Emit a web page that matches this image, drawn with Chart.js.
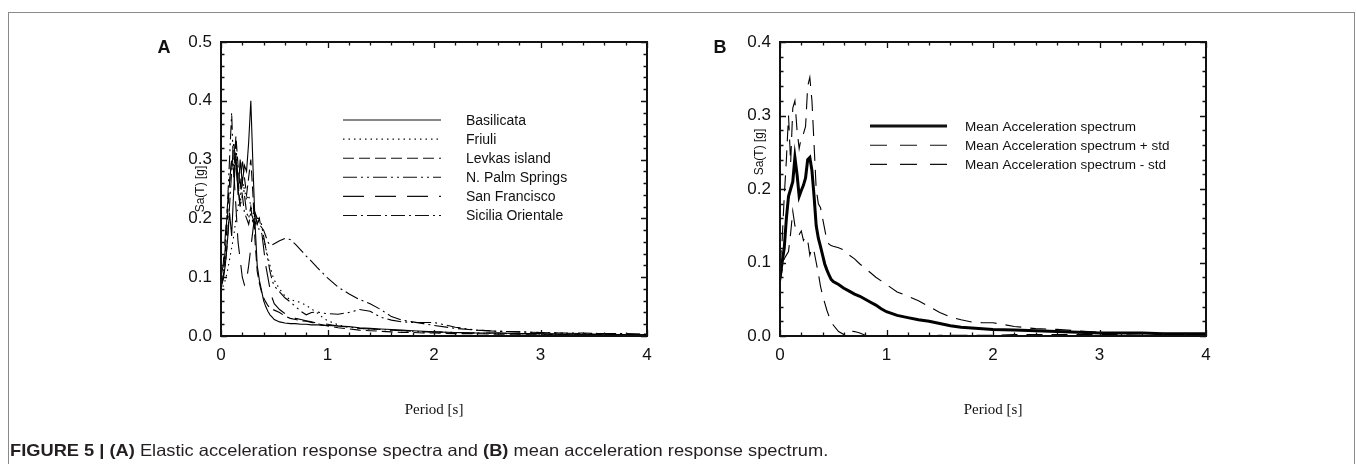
<!DOCTYPE html>
<html><head><meta charset="utf-8">
<script src="https://cdn.jsdelivr.net/npm/chart.js@4.4.1/dist/chart.umd.min.js"></script>
<style>
html,body{margin:0;padding:0;background:#fff;width:1356px;height:464px;overflow:hidden;}
#frame{position:absolute;left:8px;top:12px;width:1347px;height:480px;border:1px solid #8a8a8a;box-sizing:border-box;}
canvas{position:absolute;top:0;}
#cA{left:0;} #cB{left:680px;}
#caption{position:absolute;left:10px;top:441px;font-family:'Liberation Sans',Arial,sans-serif;font-size:16.5px;white-space:nowrap;transform-origin:0 0;color:#231f20;}
</style></head>
<body>
<div id="frame"></div>
<canvas id="cA" width="678" height="464"></canvas>
<canvas id="cB" width="676" height="464"></canvas>
<div id="caption"><b>FIGURE 5 | (A)</b> Elastic acceleration response spectra and <b>(B)</b> mean acceleration response spectrum.</div>
<script>
// ---------------- data ----------------
const periods = [0,0.02,0.04,0.06,0.08,0.10,0.12,0.14,0.16,0.18,0.20,0.22,0.24,0.26,0.28,0.30,0.32,0.34,0.36,0.38,0.40,0.42,0.44,0.46,0.48,0.50,
  0.55,0.60,0.65,0.70,0.75,0.80,0.85,0.90,0.95,1.0,
  1.1,1.2,1.3,1.4,1.5,1.6,1.7,1.8,1.9,2.0,
  2.2,2.4,2.6,2.8,3.0,3.2,3.4,3.6,3.8,4.0];

const basilicata = [0.085,0.095,0.12,0.16,0.21,0.17,0.25,0.31,0.24,0.30,0.26,0.29,0.28,0.33,0.40,0.29,0.19,0.12,0.095,0.078,0.06,0.05,0.042,0.036,0.032,0.028,
  0.024,0.022,0.021,0.021,0.020,0.020,0.019,0.019,0.018,0.018,
  0.017,0.016,0.014,0.013,0.012,0.011,0.010,0.009,0.008,0.007,
  0.006,0.005,0.005,0.004,0.004,0.003,0.003,0.003,0.002,0.002];
const friuli = [0.075,0.085,0.095,0.11,0.13,0.15,0.17,0.20,0.22,0.24,0.26,0.25,0.23,0.24,0.22,0.21,0.20,0.19,0.18,0.175,0.165,0.15,0.135,0.12,0.105,0.095,
  0.08,0.068,0.062,0.059,0.057,0.052,0.046,0.040,0.032,0.026,
  0.019,0.015,0.013,0.012,0.011,0.010,0.009,0.008,0.007,0.007,
  0.006,0.005,0.004,0.004,0.003,0.003,0.003,0.002,0.002,0.002];
const levkas = [0.09,0.10,0.14,0.20,0.26,0.30,0.28,0.34,0.29,0.25,0.30,0.27,0.24,0.27,0.30,0.24,0.16,0.11,0.09,0.075,0.065,0.058,0.052,0.047,0.045,0.044,
  0.040,0.034,0.030,0.028,0.026,0.025,0.023,0.021,0.019,0.017,
  0.014,0.012,0.010,0.009,0.008,0.007,0.006,0.006,0.005,0.005,
  0.004,0.004,0.003,0.003,0.003,0.002,0.002,0.002,0.002,0.002];
const palmSprings = [0.08,0.10,0.15,0.22,0.30,0.38,0.27,0.33,0.26,0.22,0.27,0.24,0.21,0.20,0.22,0.19,0.21,0.20,0.20,0.19,0.17,0.15,0.13,0.11,0.095,0.085,
  0.075,0.065,0.058,0.050,0.042,0.036,0.040,0.041,0.039,0.038,
  0.037,0.040,0.045,0.042,0.032,0.027,0.024,0.023,0.023,0.023,
  0.015,0.010,0.008,0.007,0.006,0.005,0.004,0.004,0.003,0.003];
const sanFrancisco = [0.10,0.12,0.17,0.22,0.26,0.30,0.28,0.22,0.16,0.13,0.10,0.087,0.095,0.12,0.15,0.18,0.21,0.19,0.20,0.18,0.15,0.12,0.10,0.08,0.065,0.055,
  0.045,0.038,0.033,0.030,0.028,0.026,0.024,0.022,0.021,0.020,
  0.017,0.015,0.013,0.012,0.011,0.010,0.009,0.008,0.007,0.007,
  0.006,0.005,0.005,0.004,0.004,0.003,0.003,0.003,0.002,0.002];
const siciliaOrientale = [0.09,0.10,0.12,0.16,0.22,0.28,0.33,0.29,0.25,0.22,0.24,0.21,0.20,0.19,0.21,0.20,0.19,0.20,0.19,0.185,0.18,0.17,0.16,0.155,0.155,0.157,
  0.162,0.166,0.164,0.156,0.146,0.136,0.127,0.117,0.108,0.099,
  0.083,0.072,0.062,0.055,0.045,0.033,0.027,0.024,0.021,0.018,
  0.013,0.010,0.008,0.007,0.006,0.005,0.005,0.004,0.004,0.003];

const meanSpectrum = [0.08,0.10,0.12,0.16,0.19,0.20,0.21,0.243,0.22,0.19,0.198,0.205,0.215,0.24,0.243,0.225,0.19,0.15,0.133,0.122,0.11,0.098,0.09,0.083,0.077,0.074,
  0.070,0.065,0.061,0.057,0.054,0.050,0.046,0.042,0.037,0.033,
  0.028,0.025,0.022,0.020,0.017,0.014,0.012,0.011,0.010,0.009,
  0.008,0.007,0.006,0.005,0.004,0.004,0.004,0.003,0.003,0.003];
const meanPlusStd = [0.095,0.13,0.19,0.24,0.30,0.235,0.31,0.32,0.28,0.255,0.27,0.275,0.285,0.34,0.352,0.32,0.26,0.20,0.18,0.175,0.16,0.145,0.13,0.125,0.123,0.122,
  0.120,0.117,0.110,0.105,0.098,0.092,0.086,0.080,0.075,0.070,
  0.060,0.054,0.048,0.040,0.032,0.026,0.022,0.019,0.018,0.018,
  0.013,0.010,0.009,0.007,0.005,0.004,0.004,0.003,0.003,0.003];
const meanMinusStd = [0.07,0.09,0.105,0.11,0.115,0.14,0.17,0.15,0.14,0.138,0.143,0.13,0.135,0.13,0.11,0.12,0.115,0.10,0.085,0.068,0.055,0.045,0.035,0.027,0.020,0.015,
  0.006,0.002,0.007,0.006,0.004,0.001,0.000,0.000,0.000,0.000,
  0.000,0.000,0.000,0.000,0.001,0.001,0.001,0.001,0.001,0.001,
  0.002,0.002,0.002,0.002,0.002,0.002,0.001,0.001,0.001,0.001];

const xTickValues = [0,1,2,3,4];
const yTicksA = [0,0.1,0.2,0.3,0.4,0.5];
const yTicksB = [0,0.1,0.2,0.3,0.4];

// ---------------- helpers ----------------
const SANS = "'Liberation Sans', Arial, Helvetica, sans-serif";
const SERIF = "'Liberation Serif', 'Times New Roman', serif";
const pts = vals => periods.map((p,i)=>({x:p,y:vals[i]}));

function mkDataset(label, vals, dash, width, legendDash){
  return {label, data: pts(vals), borderColor:'#000', borderWidth: width||1.1, borderDash: dash||[], legendDash: legendDash||dash||[], pointRadius:0, fill:false, tension:0};
}

function framePlugin(cfg){
  return {
    id:'frameDeco',
    afterDatasetsDraw(chart){
      const ctx = chart.ctx, a = chart.chartArea, xs = chart.scales.x, ys = chart.scales.y;
      ctx.save();
      ctx.strokeStyle = '#111';
      // ticks
      ctx.lineWidth = 1.3;
      ctx.beginPath();
      for(let i=0;i<=20;i++){
        const px = Math.round(xs.getPixelForValue(i*0.2))+0.5;
        const len = (i%5===0)?6:3.5;
        ctx.moveTo(px,a.bottom); ctx.lineTo(px,a.bottom-len);
        ctx.moveTo(px,a.top); ctx.lineTo(px,a.top+len);
      }
      const nY = Math.round(cfg.ymax/0.02);
      for(let i=0;i<=nY;i++){
        const py = Math.round(ys.getPixelForValue(i*0.02))+0.5;
        const len = (i%5===0)?6:3.5;
        ctx.moveTo(a.left,py); ctx.lineTo(a.left+len,py);
        ctx.moveTo(a.right,py); ctx.lineTo(a.right-len,py);
      }
      ctx.stroke();
      // frame
      ctx.lineWidth = 2;
      ctx.strokeRect(a.left, a.top, a.right-a.left, a.bottom-a.top);
      // legend
      ctx.font = cfg.legFont + 'px ' + SANS;
      ctx.fillStyle = '#111';
      ctx.textBaseline = 'middle';
      ctx.textAlign = 'left';
      chart.data.datasets.forEach((ds,i)=>{
        const y = cfg.legY + i*cfg.legRow;
        ctx.save();
        ctx.lineWidth = ds.borderWidth;
        ctx.setLineDash(ds.legendDash||[]);
        ctx.beginPath(); ctx.moveTo(cfg.legX1,y); ctx.lineTo(cfg.legX2,y); ctx.stroke();
        ctx.restore();
        ctx.fillText(ds.label, cfg.legTX, y+1);
      });
      // y title
      ctx.save();
      ctx.translate(cfg.yTitleX, cfg.yTitleY);
      ctx.rotate(-Math.PI/2);
      ctx.textAlign='center'; ctx.textBaseline='middle';
      ctx.font = '12px ' + SANS;
      ctx.fillText('Sa(T) [g]',0,0);
      ctx.restore();
      // x title
      ctx.textAlign='center'; ctx.textBaseline='middle';
      ctx.font = '15px ' + SERIF;
      ctx.fillText('Period [s]', (a.left+a.right)/2, cfg.xTitleY);
      // panel letter
      ctx.font = 'bold 18px ' + SANS;
      ctx.fillText(cfg.letter, cfg.letterX, cfg.letterY);
      ctx.restore();
    }
  };
}

function mkOptions(ymax, yTicks, padLeft, padRight){
  return {
    responsive:false, animation:false, devicePixelRatio:1,
    layout:{padding:{left:padLeft,right:padRight,top:42,bottom:88}},
    plugins:{legend:{display:false}, tooltip:{enabled:false}, title:{display:false}},
    elements:{point:{radius:0}},
    scales:{
      x:{type:'linear', min:0, max:4,
        afterFit(s){ s.height = 40; },
        afterBuildTicks(s){ s.ticks = xTickValues.map(v=>({value:v})); },
        grid:{display:false, drawTicks:false}, border:{display:false},
        ticks:{color:'#111', font:{family:SANS, size:17}, padding:9, maxRotation:0, autoSkip:false, callback:v=>String(v)}},
      y:{type:'linear', min:0, max:ymax,
        afterFit(s){ s.width = 60; },
        afterBuildTicks(s){ s.ticks = yTicks.map(v=>({value:v})); },
        grid:{display:false, drawTicks:false}, border:{display:false},
        ticks:{color:'#111', font:{family:SANS, size:17}, padding:9, autoSkip:false, callback:v=>Number(v).toFixed(1)}}
    }
  };
}

new Chart(document.getElementById('cA'), {
  type:'line',
  data:{datasets:[
    mkDataset('Basilicata', basilicata, []),
    mkDataset('Friuli', friuli, [1.5,4]),
    mkDataset('Levkas island', levkas, [11,5]),
    mkDataset('N. Palm Springs', palmSprings, [14,4,2,4,2,4]),
    mkDataset('San Francisco', sanFrancisco, [21,11]),
    mkDataset('Sicilia Orientale', siciliaOrientale, [14,4,2,4])
  ]},
  options: mkOptions(0.5, yTicksA, 161, 31),
  plugins:[framePlugin({ymax:0.5, legY:120, legRow:19.1, legX1:343, legX2:441, legTX:466, legFont:14,
    yTitleX:201, yTitleY:189, xTitleY:410, letter:'A', letterX:164, letterY:48})]
});

new Chart(document.getElementById('cB'), {
  type:'line',
  data:{datasets:[
    mkDataset('Mean Acceleration spectrum', meanSpectrum, [], 3),
    mkDataset('Mean Acceleration spectrum + std', meanPlusStd, [16,9], 1.1, [17,13]),
    mkDataset('Mean Acceleration spectrum - std', meanMinusStd, [16,9], 1.1, [17,13])
  ]},
  options: mkOptions(0.4, yTicksB, 40, 150),
  plugins:[framePlugin({ymax:0.4, legY:126, legRow:19.2, legX1:190, legX2:267, legTX:285, legFont:13.5,
    yTitleX:80, yTitleY:152, xTitleY:410, letter:'B', letterX:40, letterY:48})]
});

const cap = document.getElementById('caption');
const w = cap.offsetWidth;
cap.style.transform = 'scaleX(' + (818/w) + ')';
</script>
</body></html>
